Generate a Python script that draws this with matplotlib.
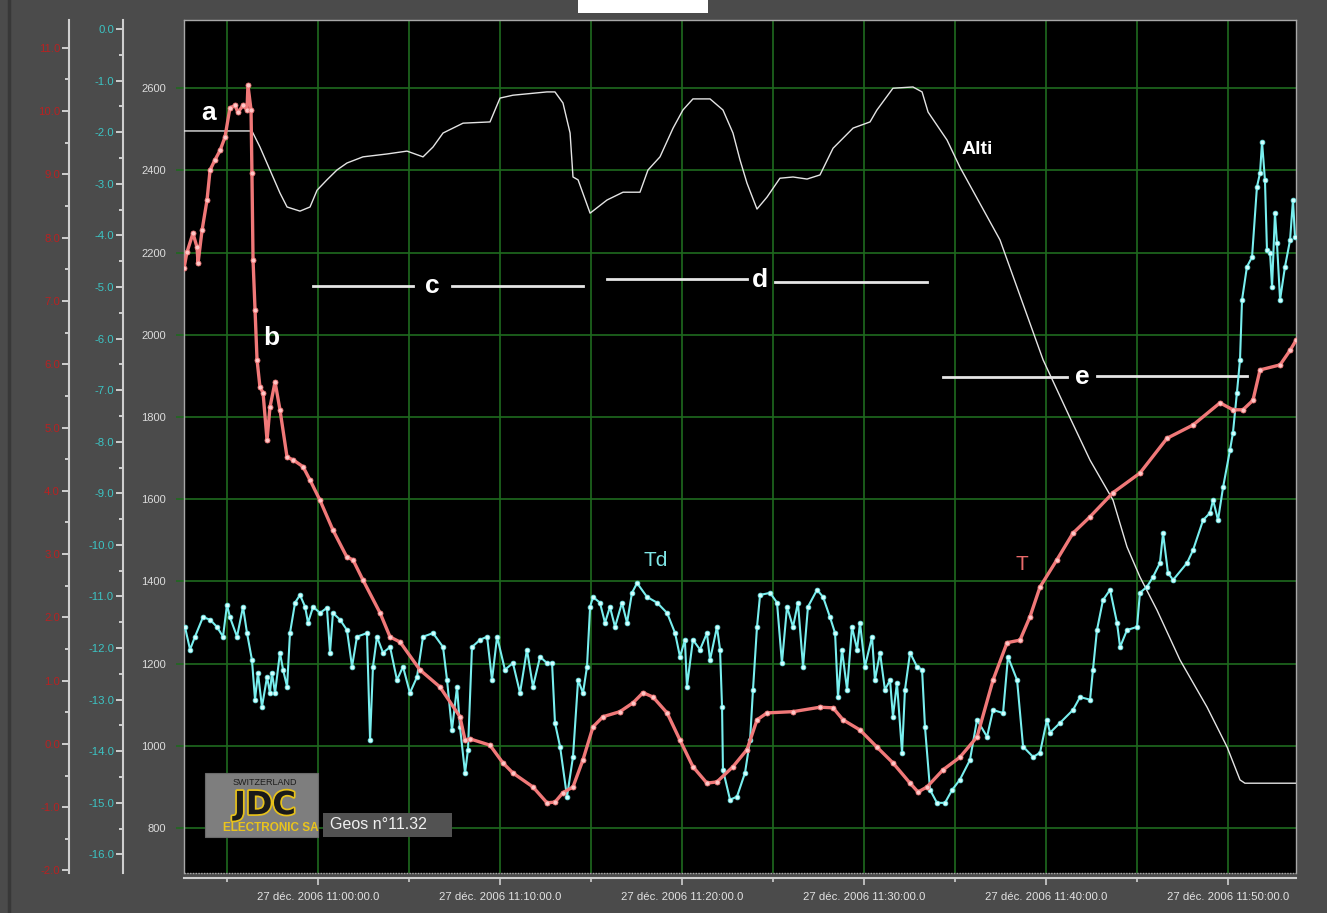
import numpy as np
import matplotlib
matplotlib.use("Agg")
import matplotlib.pyplot as plt
import matplotlib.dates as mdates
import matplotlib.patheffects as pe
from matplotlib.patches import Rectangle
from matplotlib.lines import Line2D
from matplotlib.ticker import MultipleLocator, FuncFormatter, FormatStrFormatter

#############################
# Flight data (minutes after 11:00)
#############################
# Altitude (m)
alti_min = [-7.36, -3.63, -3.19, -2.09, -1.70, -0.99, -0.44, -0.05, 0.49, 1.04,
            1.59, 2.47, 3.79, 4.89, 5.77, 6.32, 6.87, 7.97, 9.45, 10.00,
            10.71, 12.58, 13.02, 13.46, 13.85, 14.01, 14.29, 14.95, 15.88, 16.76,
            17.69, 18.13, 18.79, 19.51, 20.05, 20.60, 21.54, 22.25, 22.80, 23.19,
            23.57, 24.12, 24.67, 25.38, 26.10, 26.87, 27.58, 28.30, 29.40, 30.33,
            30.71, 31.59, 32.69, 33.19, 33.52, 34.56, 35.27, 37.47, 39.84, 41.32,
            42.42, 43.68, 44.45, 45.16, 46.10, 47.36, 48.85, 49.95, 50.66, 50.93,
            53.74]
alti_m = [2496, 2496, 2457, 2345, 2311, 2301, 2311, 2352, 2377, 2401,
          2418, 2433, 2440, 2447, 2433, 2457, 2491, 2515, 2518, 2576,
          2583, 2591, 2591, 2564, 2491, 2384, 2377, 2296, 2328, 2347,
          2347, 2401, 2433, 2503, 2547, 2574, 2574, 2547, 2491, 2425,
          2369, 2306, 2335, 2381, 2384, 2379, 2389, 2454, 2503, 2518,
          2547, 2600, 2603, 2591, 2542, 2474, 2408, 2231, 1939, 1798,
          1695, 1598, 1484, 1411, 1330, 1209, 1094, 997, 917, 909,
          909]

# Temperature T (°C)
t_min = [-7.36, -7.20, -6.87, -6.65, -6.59, -6.37, -6.10, -5.93, -5.66, -5.38,
         -5.11, -4.84, -4.56, -4.40, -4.12, -3.90, -3.85, -3.68, -3.63, -3.57,
         -3.46, -3.35, -3.19, -3.02, -2.80, -2.64, -2.36, -2.09, -1.70, -1.37,
         -0.82, -0.44, 0.11, 0.82, 1.59, 1.92, 2.47, 3.41, 3.96, 4.51,
         5.60, 6.70, 7.80, 8.08, 8.35, 9.45, 10.16, 10.71, 11.81, 12.58,
         13.02, 13.46, 14.01, 14.56, 15.11, 15.66, 16.59, 17.31, 17.86, 18.41,
         19.18, 19.89, 20.60, 21.37, 21.92, 22.80, 23.57, 24.12, 24.67, 26.10,
         27.58, 28.30, 28.85, 29.78, 30.71, 31.59, 32.53, 32.97, 33.46, 34.34,
         35.27, 36.21, 37.09, 37.86, 38.57, 39.12, 39.67, 40.60, 41.48, 42.42,
         43.68, 45.16, 46.65, 48.08, 49.56, 50.27, 50.82, 51.37, 51.76, 52.86,
         53.41, 53.74]
t_val = [7.52, 7.77, 8.07, 7.85, 7.60, 8.12, 8.59, 9.07, 9.23, 9.38,
         9.59, 10.05, 10.09, 9.98, 10.09, 10.02, 10.41, 10.02, 9.02, 7.65,
         6.86, 6.07, 5.64, 5.55, 4.80, 5.32, 5.72, 5.28, 4.53, 4.49,
         4.38, 4.17, 3.85, 3.38, 2.95, 2.91, 2.59, 2.07, 1.69, 1.61,
         1.17, 0.90, 0.43, 0.06, 0.08, -0.02, -0.30, -0.46, -0.68, -0.93,
         -0.92, -0.77, -0.68, -0.25, 0.27, 0.43, 0.51, 0.65, 0.81, 0.74,
         0.49, 0.06, -0.36, -0.62, -0.60, -0.36, -0.09, 0.38, 0.49, 0.51,
         0.58, 0.57, 0.38, 0.22, -0.05, -0.30, -0.62, -0.76, -0.68, -0.41,
         -0.21, 0.11, 1.01, 1.60, 1.64, 2.01, 2.48, 2.91, 3.33, 3.59,
         3.97, 4.28, 4.83, 5.04, 5.39, 5.28, 5.28, 5.43, 5.91, 5.99,
         6.22, 6.38]

# Dew point Td (°C)
td_min = [-7.31, -7.03, -6.76, -6.32, -5.93, -5.55, -5.22, -5.00, -4.84, -4.45,
          -4.12, -3.90, -3.63, -3.46, -3.30, -3.08, -2.80, -2.64, -2.53, -2.36,
          -2.09, -1.92, -1.70, -1.54, -1.26, -0.99, -0.71, -0.55, -0.27, 0.11,
          0.49, 0.66, 0.82, 1.21, 1.59, 1.87, 2.14, 2.69, 2.86, 3.02,
          3.24, 3.57, 3.96, 4.34, 4.67, 5.05, 5.44, 5.77, 6.32, 6.87,
          7.09, 7.36, 7.64, 7.80, 8.08, 8.24, 8.46, 8.90, 9.29, 9.56,
          9.84, 10.27, 10.71, 11.10, 11.48, 11.81, 12.20, 12.58, 12.86, 13.02,
          13.30, 13.68, 14.01, 14.29, 14.56, 14.78, 14.95, 15.11, 15.49, 15.77,
          16.04, 16.32, 16.70, 16.98, 17.25, 17.53, 18.08, 18.63, 19.18, 19.62,
          19.89, 20.16, 20.27, 20.60, 20.99, 21.37, 21.54, 21.92, 22.09, 22.20,
          22.25, 22.64, 23.02, 23.46, 23.74, 23.90, 24.12, 24.29, 24.84, 25.22,
          25.49, 25.77, 26.10, 26.37, 26.65, 26.92, 27.42, 27.75, 28.13, 28.41,
          28.57, 28.79, 29.07, 29.34, 29.62, 29.78, 30.05, 30.44, 30.60, 30.88,
          31.15, 31.43, 31.59, 31.81, 32.09, 32.25, 32.53, 32.91, 33.19, 33.35,
          33.63, 34.01, 34.45, 34.84, 35.27, 35.82, 36.21, 36.76, 37.09, 37.64,
          37.91, 38.41, 38.74, 39.29, 39.67, 40.05, 40.22, 40.77, 41.48, 41.87,
          42.42, 42.58, 42.80, 43.13, 43.52, 43.90, 44.07, 44.45, 45.00, 45.16,
          45.55, 45.88, 46.26, 46.43, 46.70, 46.98, 47.75, 48.08, 48.63, 49.01,
          49.18, 49.45, 49.73, 50.11, 50.27, 50.49, 50.66, 50.77, 51.04, 51.32,
          51.59, 51.76, 51.87, 52.03, 52.14, 52.31, 52.42, 52.58, 52.69, 52.86,
          53.13, 53.41, 53.57, 53.68]
td_val = [-11.59, -12.03, -11.78, -11.40, -11.45, -11.59, -11.78, -11.16, -11.40, -11.78,
          -11.20, -11.71, -12.23, -13.00, -12.48, -13.14, -12.56, -12.87, -12.48, -12.87,
          -12.09, -12.42, -12.75, -11.71, -11.12, -10.97, -11.20, -11.51, -11.20, -11.32,
          -11.22, -12.09, -11.32, -11.45, -11.65, -12.36, -11.78, -11.71, -13.78, -12.36,
          -11.78, -12.09, -11.98, -12.62, -12.36, -12.87, -12.56, -11.78, -11.71, -11.98,
          -12.62, -13.59, -12.75, -13.53, -14.42, -13.97, -11.98, -11.84, -11.78, -12.62,
          -11.78, -12.42, -12.29, -12.87, -12.03, -12.75, -12.17, -12.29, -12.29, -13.45,
          -13.91, -14.88, -14.11, -12.62, -12.87, -12.36, -11.20, -11.01, -11.12, -11.51,
          -11.20, -11.59, -11.12, -11.51, -10.93, -10.74, -11.01, -11.12, -11.32, -11.71,
          -12.17, -11.84, -12.75, -11.84, -12.03, -11.71, -12.23, -11.59, -12.03, -13.14,
          -14.36, -14.94, -14.88, -14.42, -13.78, -12.81, -11.59, -10.97, -10.93, -11.12,
          -12.29, -11.20, -11.59, -11.12, -12.36, -11.20, -10.87, -11.01, -11.40, -11.71,
          -12.95, -12.03, -12.81, -11.59, -12.03, -11.51, -12.36, -11.78, -12.62, -12.09,
          -12.81, -12.62, -13.33, -12.67, -14.03, -12.81, -12.09, -12.36, -12.42, -13.53,
          -14.75, -15.00, -15.00, -14.75, -14.55, -14.17, -13.39, -13.72, -13.20, -13.26,
          -12.17, -12.62, -13.91, -14.11, -14.03, -13.39, -13.64, -13.45, -13.20, -12.95,
          -13.00, -12.42, -11.65, -11.07, -10.87, -11.51, -11.98, -11.65, -11.59, -10.93,
          -10.81, -10.62, -10.35, -9.77, -10.54, -10.68, -10.35, -10.10, -9.52, -9.38,
          -9.13, -9.52, -8.88, -8.16, -7.83, -7.05, -6.41, -5.25, -4.61, -4.42,
          -3.06, -2.79, -2.19, -2.93, -4.28, -4.34, -5.00, -3.57, -4.15, -5.25,
          -4.61, -4.09, -3.31, -4.03]

# axis ranges
x_range = (-7.36, 53.74)
alti_range = (690.5, 2766)
td_range = (-16.36, 0.174)
t_range = (-2.04, 11.44)

BASE = np.datetime64("2006-12-27T11:00:00")


def to_time(minutes):
    ms = np.round(np.asarray(minutes, dtype=float) * 60000).astype("int64")
    return BASE + ms.astype("timedelta64[ms]")


def xnum(minutes):
    return mdates.date2num(to_time(minutes))


BG = "#4b4b4b"
GRID = "#1f6a1f"
SPINE = "#cfcfcf"
TXT = "Liberation Sans"

fig = plt.figure(figsize=(13.27, 9.13), dpi=100, facecolor=BG)
ax = fig.add_axes([0.1387, 0.0438, 0.838, 0.9343])
ax.set_facecolor("black")

# altitude on the main axes
ax.plot(to_time(alti_min), alti_m, color="#e4e4e4", lw=1.0, zorder=3)
ax.set_xlim(xnum(x_range[0]), xnum(x_range[1]))
ax.set_ylim(*alti_range)
ax.yaxis.set_major_locator(MultipleLocator(200))
ax.xaxis.set_major_locator(mdates.MinuteLocator(byminute=[0, 10, 20, 30, 40, 50]))
ax.xaxis.set_minor_locator(mdates.MinuteLocator(byminute=[5, 15, 25, 35, 45, 55]))
ax.xaxis.set_major_formatter(FuncFormatter(
    lambda v, pos: mdates.num2date(v).strftime("27 déc. 2006 %H:%M:%S.0")))
ax.grid(True, which="major", color=GRID, lw=1.2)
ax.grid(True, which="minor", axis="x", color=GRID, lw=1.2)
ax.set_axisbelow(True)

for side in ["top", "left", "right"]:
    ax.spines[side].set_color("#a8a8a8")
    ax.spines[side].set_linestyle((0, (1, 1)))
    ax.spines[side].set_linewidth(1.0)
ax.spines["bottom"].set_position(("outward", 3.6))
ax.spines["bottom"].set_color(SPINE)
ax.spines["bottom"].set_linewidth(1.5)
ax.plot([0, 1], [0, 0], transform=ax.transAxes, color="#a8a8a8",
        ls=(0, (1, 1)), lw=1.0, clip_on=False)

ax.tick_params(axis="x", which="major", colors=SPINE, length=5, width=1.2,
               pad=5, labelsize=8.2, labelcolor="#e2e2e2")
ax.tick_params(axis="x", which="minor", colors=SPINE, length=3, width=1.2)
ax.tick_params(axis="y", colors=GRID, length=6, width=1.2, pad=7,
               labelsize=8, labelcolor="#dcdcdc")
for lab in ax.get_xticklabels() + ax.get_yticklabels():
    lab.set_fontfamily(TXT)

# dew point axis (cyan)
ax_td = ax.twinx()
ax_td.plot(to_time(td_min), td_val, color="#78eeee", lw=1.5, marker="o",
           ms=3.4, mfc="#d4ffff", mec="#6ee6e6", mew=0.6, zorder=3)
ax_td.set_ylim(*td_range)
ax_td.yaxis.tick_left()
ax_td.yaxis.set_major_locator(MultipleLocator(1.0))
ax_td.yaxis.set_minor_locator(MultipleLocator(0.5))
ax_td.yaxis.set_major_formatter(FormatStrFormatter("%.1f"))

# temperature axis (red)
ax_t = ax.twinx()
ax_t.plot(to_time(t_min), t_val, color="#f07878", lw=2.4, marker="o",
          ms=3.6, mfc="#ffc6c6", mec="#f07878", mew=0.6, zorder=3)
ax_t.set_ylim(*t_range)
ax_t.yaxis.tick_left()
ax_t.yaxis.set_major_locator(MultipleLocator(1.0))
ax_t.yaxis.set_minor_locator(MultipleLocator(0.5))
ax_t.yaxis.set_major_formatter(FormatStrFormatter("%.1f"))

for a, off, col in [(ax_td, 43.9, "#3cc4c4"), (ax_t, 82.8, "#b82222")]:
    for side in ["top", "right", "bottom"]:
        a.spines[side].set_visible(False)
    a.spines["left"].set_visible(True)
    a.spines["left"].set_position(("outward", off))
    a.spines["left"].set_color(SPINE)
    a.spines["left"].set_linewidth(1.5)
    a.tick_params(axis="y", which="major", colors=SPINE, length=5, width=1.4,
                  pad=1.5, labelsize=8.2, labelcolor=col)
    a.tick_params(axis="y", which="minor", colors=SPINE, length=3, width=1.4)
    a.set_xlim(ax.get_xlim())
    for lab in a.get_yticklabels():
        lab.set_fontfamily(TXT)

# flight phase markers
phase_lines = [
    (-0.27, 5.22, 2119), (7.36, 14.56, 2119),
    (15.88, 23.57, 2136), (25.11, 33.46, 2128),
    (34.34, 41.15, 1897), (42.80, 51.04, 1901),
]
for m0, m1, y in phase_lines:
    ax.plot([xnum(m0), xnum(m1)], [y, y], color="#e6e6e6", lw=2.0, zorder=4)

letters = [("a", -6.04, 2540), ("b", -2.58, 1992), ("c", 6.26, 2119),
           ("d", 24.29, 2133), ("e", 41.98, 1897)]
for s, m, y in letters:
    ax.text(xnum(m), y, s, color="white", fontsize=19, fontweight="bold",
            family=TXT, ha="center", va="center", zorder=5)

ax.text(xnum(36.21), 2450, "Alti", color="white", fontsize=14, fontweight="bold",
        family=TXT, ha="center", va="center", zorder=5)
ax.text(xnum(18.57), 1452, "Td", color="#7fe6e6", fontsize=15,
        family=TXT, ha="center", va="center", zorder=5)
ax.text(xnum(38.68), 1440, "T", color="#e86a6a", fontsize=15,
        family=TXT, ha="center", va="center", zorder=5)

# frame decorations
fig.add_artist(Line2D([0.0068, 0.0068], [0, 1], transform=fig.transFigure,
                      color="#383838", lw=2.5))
fig.add_artist(Rectangle((0.4356, 0.9858), 0.098, 0.0142, transform=fig.transFigure,
                         facecolor="white", edgecolor="none", zorder=2))

# logo block
fig.add_artist(Rectangle((0.1545, 0.0832), 0.0852, 0.0701, transform=fig.transFigure,
                         facecolor="#7e7e7e", edgecolor="#6a6a6a", lw=0.8, zorder=5))
fig.text(0.1997, 0.1425, "SWITZERLAND", color="#1c1c1c", fontsize=6.5,
         family=TXT, ha="center", va="center", zorder=6)
fig.text(0.1997, 0.1175, "JDC", color="#1a1a1a", fontsize=23, fontweight="bold",
         family="DejaVu Sans", ha="center", va="center", zorder=6,
         path_effects=[pe.withStroke(linewidth=2.5, foreground="#e8c21a")])
fig.text(0.1680, 0.0931, "ELECTRONIC SA", color="#eac41c", fontsize=8.5,
         fontweight="bold", family=TXT, ha="left", va="center", zorder=6)
fig.add_artist(Rectangle((0.2434, 0.0832), 0.0972, 0.0263, transform=fig.transFigure,
                         facecolor="#525252", edgecolor="none", zorder=5))
fig.text(0.2487, 0.0964, "Geos n°11.32", color="#f0f0f0", fontsize=11.5,
         family=TXT, ha="left", va="center", zorder=6)

fig.savefig("out.png", dpi=100, facecolor=fig.get_facecolor())
